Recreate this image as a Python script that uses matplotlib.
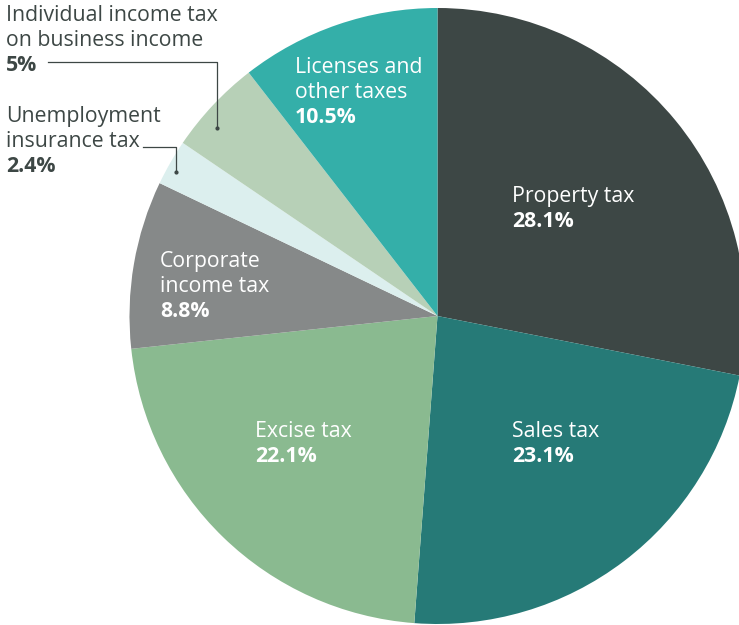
import matplotlib.pyplot as plt

labels = ["Property tax", "Sales tax", "Excise tax", "Corporate\nincome tax",
          "Unemployment\ninsurance tax", "Individual income tax\non business income",
          "Licenses and\nother taxes"]
shares = [28.1, 23.1, 22.1, 8.8, 2.4, 5.0, 10.5]
value_text = ["28.1%", "23.1%", "22.1%", "8.8%", "2.4%", "5%", "10.5%"]
colors = ["#3d4745", "#267a77", "#8aba90", "#868989", "#dcefee", "#b7d0b7", "#34afa9"]

W, H = 739, 625
plt.rcParams['font.family'] = ['Open Sans', 'DejaVu Sans']

fig = plt.figure(figsize=(W / 100, H / 100), dpi=100)
ax = fig.add_axes([0, 0, 1, 1])

cx, cy, r = 437.5, 316, 308
ax.pie(shares, colors=colors, startangle=90, counterclock=False,
       center=(cx, H - cy), radius=r, frame=True,
       wedgeprops=dict(linewidth=0))
ax.set_xlim(0, W)
ax.set_ylim(0, H)
ax.set_aspect('equal')
ax.axis('off')

fs = 15.3
step = 24.8
dark = "#3d4745"


def put(x, y, name, val, col):
    # one text per line, y is the first baseline in pixels from the top
    lines = name.split("\n")
    for i, s in enumerate(lines):
        ax.text(x, H - (y + step * i), s, ha='left', va='baseline',
                fontsize=fs, color=col)
    ax.text(x, H - (y + step * len(lines)), val, ha='left', va='baseline',
            fontsize=fs, color=col, fontweight='bold')


# labels inside the wedges
put(512, 202, labels[0], value_text[0], "white")
put(512, 437, labels[1], value_text[1], "white")
put(255, 437, labels[2], value_text[2], "white")
put(160, 267, labels[3], value_text[3], "white")
put(295, 73, labels[6], value_text[6], "white")

# small wedges get outside labels with leader lines
put(6, 122, labels[4], value_text[4], dark)
put(6, 21, labels[5], value_text[5], dark)

ax.plot([48, 217, 217], [H - 62, H - 62, H - 128], color=dark, lw=0.9)
ax.plot([217], [H - 128], 'o', color=dark, ms=2)
ax.plot([143, 176, 176], [H - 147, H - 147, H - 172], color=dark, lw=0.9)
ax.plot([176], [H - 172], 'o', color=dark, ms=2)

fig.savefig("out.png", dpi=100)
